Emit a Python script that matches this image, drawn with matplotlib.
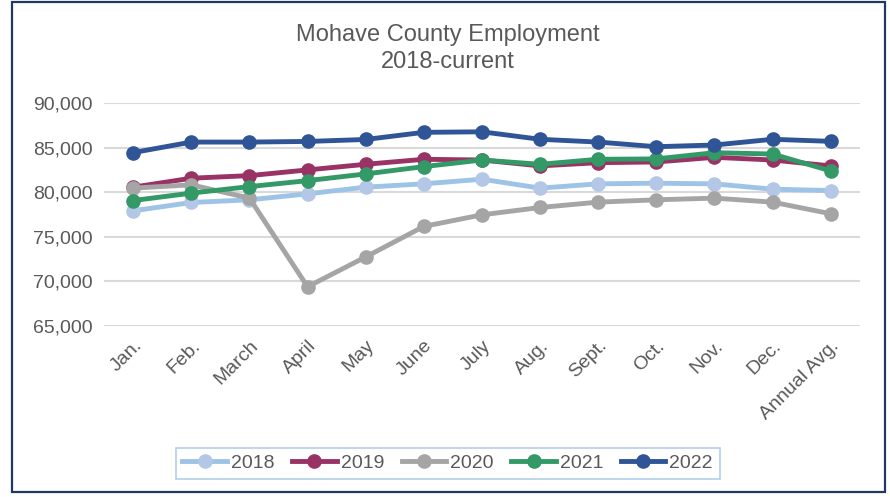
import matplotlib
matplotlib.use("Agg")
import matplotlib.pyplot as plt
from matplotlib.patches import Rectangle
from matplotlib.ticker import FuncFormatter

plt.rcParams['font.family'] = ['Liberation Sans', 'DejaVu Sans']

# data
months = ['Jan.', 'Feb.', 'March', 'April', 'May', 'June', 'July', 'Aug.',
          'Sept.', 'Oct.', 'Nov.', 'Dec.', 'Annual Avg.']

emp_2018 = [77910, 78840, 79140, 79810, 80560, 80930, 81450, 80450, 80930, 81000, 80930, 80330, 80180]
emp_2019 = [80560, 81560, 81850, 82490, 83120, 83680, 83600, 82940, 83300, 83380, 83900, 83600, 82940]
emp_2020 = [80450, 80820, 79330, 69400, 72740, 76160, 77460, 78280, 78880, 79140, 79330, 78880, 77580]
emp_2021 = [79060, 79890, 80620, 81290, 82040, 82860, 83600, 83120, 83680, 83720, 84420, 84270, 82380]
emp_2022 = [84430, 85610, 85610, 85680, 85900, 86700, 86760, 85920, 85610, 85090, 85280, 85920, 85690]

series = [
    ('2018', emp_2018, '#9DC3E6', '#B4C7E7'),
    ('2019', emp_2019, '#993366', '#993366'),
    ('2020', emp_2020, '#A5A5A5', '#A5A5A5'),
    ('2021', emp_2021, '#339966', '#339966'),
    ('2022', emp_2022, '#2F5597', '#2F5597'),
]

fig = plt.figure(figsize=(8.9, 4.97), dpi=100)
ax = fig.add_axes([0.117, 0.344, 0.849, 0.449])

x = list(range(len(months)))
for name, vals, lc, mc in series:
    ax.plot(x, vals, color=lc, lw=3.5, marker='o', markersize=9.5,
            markerfacecolor=mc, markeredgecolor=mc, label=name)

ax.set_xlim(-0.5, len(months) - 0.5)
ax.set_ylim(65000, 90000)
ax.set_yticks(range(65000, 90001, 5000))
ax.yaxis.set_major_formatter(FuncFormatter(lambda v, p: f'{int(v):,}'))
ax.set_xticks(x)
ax.set_xticklabels(months, rotation=45, ha='right', rotation_mode='anchor')
ax.tick_params(length=0, labelsize=14, colors='#595959', pad=8)
ax.grid(axis='y', color='#D9D9D9', lw=1.5)
ax.set_axisbelow(True)
for s in ax.spines.values():
    s.set_visible(False)

fig.text(0.503, 0.902, 'Mohave County Employment\n2018-current', ha='center', va='center',
         fontsize=17, color='#595959', linespacing=1.3)

leg = fig.legend(loc='center', bbox_to_anchor=(0.503, 0.068), ncol=5, fontsize=14,
                 frameon=True, fancybox=False, handlelength=2.3, columnspacing=0.9,
                 handletextpad=0.2, borderpad=0.35, borderaxespad=0)
leg.get_frame().set_edgecolor('#9DC3E6')
leg.get_frame().set_linewidth(1.2)
for t in leg.get_texts():
    t.set_color('#595959')

fig.patches.append(Rectangle((12 / 890, 5 / 497), 873 / 890, 490 / 497, transform=fig.transFigure,
                             fill=False, edgecolor='#1F3864', lw=1.6))

fig.savefig('out.png', dpi=100)
